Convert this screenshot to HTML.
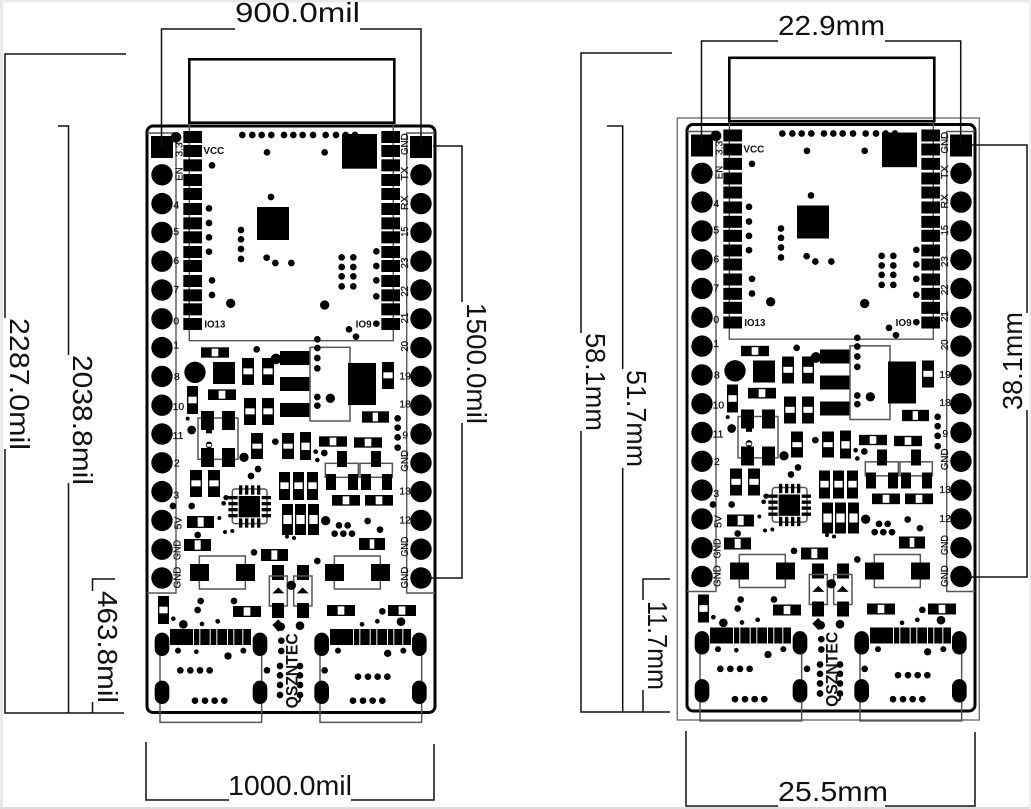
<!DOCTYPE html>
<html><head><meta charset="utf-8"><style>
html,body{margin:0;padding:0;background:#fff;width:1031px;height:809px;overflow:hidden}
svg{display:block}
.dim{font:28px "Liberation Sans",sans-serif;fill:#111}
.l{font:31px "Liberation Sans",sans-serif;fill:#111;stroke:#111;stroke-width:.7}
.b{font:bold 29px "Liberation Sans",sans-serif;fill:#111}
.q{font:bold 50px "Liberation Sans",sans-serif;fill:#111}
.w{fill:#fff}
.th{fill:none;stroke:#555;stroke-width:4.5}
.dl{fill:none;stroke:#111;stroke-width:1.5}
</style></head><body>
<svg width="1031" height="809" viewBox="0 0 1031 809" xmlns="http://www.w3.org/2000/svg">
<defs>
<g id="s">
<rect x="147" y="126" width="288" height="586.5" rx="6" fill="#fff" stroke="#000" stroke-width="3"/>
<rect x="189.3" y="59.3" width="205" height="63.4" fill="none" stroke="#000" stroke-width="2.6"/>
<path d="M147 133H176V593H147M435 133H406.7V593H435M189.3 124V340.7H393.3V124" fill="none" stroke="#555" stroke-width="1.4"/>
<rect x="151" y="136" width="22" height="22"/><rect x="410" y="136" width="22" height="22"/>
<g>
<circle cx="162" cy="174.8" r="10.7"/><circle cx="162" cy="203.6" r="10.7"/><circle cx="162" cy="232.4" r="10.7"/><circle cx="162" cy="261.2" r="10.7"/><circle cx="162" cy="290" r="10.7"/><circle cx="162" cy="318.8" r="10.7"/><circle cx="162" cy="347.6" r="10.7"/><circle cx="162" cy="376.4" r="10.7"/><circle cx="162" cy="405.2" r="10.7"/><circle cx="162" cy="434" r="10.7"/><circle cx="162" cy="462.8" r="10.7"/><circle cx="162" cy="491.6" r="10.7"/><circle cx="162" cy="520.4" r="10.7"/><circle cx="162" cy="549.2" r="10.7"/><circle cx="162" cy="578" r="10.7"/>
<circle cx="421" cy="174.8" r="10.7"/><circle cx="421" cy="203.6" r="10.7"/><circle cx="421" cy="232.4" r="10.7"/><circle cx="421" cy="261.2" r="10.7"/><circle cx="421" cy="290" r="10.7"/><circle cx="421" cy="318.8" r="10.7"/><circle cx="421" cy="347.6" r="10.7"/><circle cx="421" cy="376.4" r="10.7"/><circle cx="421" cy="405.2" r="10.7"/><circle cx="421" cy="434" r="10.7"/><circle cx="421" cy="462.8" r="10.7"/><circle cx="421" cy="491.6" r="10.7"/><circle cx="421" cy="520.4" r="10.7"/><circle cx="421" cy="549.2" r="10.7"/><circle cx="421" cy="578" r="10.7"/>
</g>
<!-- crop1 space -->
<g transform="translate(140,50) scale(.33333)">
<rect x="130" y="243" width="56" height="36"/><rect x="130" y="285" width="56" height="36"/><rect x="130" y="328" width="56" height="36"/><rect x="130" y="372" width="56" height="36"/><rect x="130" y="414" width="56" height="36"/><rect x="130" y="459" width="56" height="36"/><rect x="130" y="502" width="56" height="36"/><rect x="130" y="544" width="56" height="36"/><rect x="130" y="588" width="56" height="36"/><rect x="130" y="630" width="56" height="36"/><rect x="130" y="675" width="56" height="36"/><rect x="130" y="718" width="56" height="36"/><rect x="130" y="760" width="56" height="36"/><rect x="130" y="804" width="56" height="36"/>
<rect x="724" y="243" width="56" height="36"/><rect x="724" y="285" width="56" height="36"/><rect x="724" y="328" width="56" height="36"/><rect x="724" y="372" width="56" height="36"/><rect x="724" y="414" width="56" height="36"/><rect x="724" y="459" width="56" height="36"/><rect x="724" y="502" width="56" height="36"/><rect x="724" y="544" width="56" height="36"/><rect x="724" y="588" width="56" height="36"/><rect x="724" y="630" width="56" height="36"/><rect x="724" y="675" width="56" height="36"/><rect x="724" y="718" width="56" height="36"/><rect x="724" y="760" width="56" height="36"/><rect x="724" y="804" width="56" height="36"/>
<circle cx="307" cy="255" r="10"/><circle cx="337" cy="255" r="10"/><circle cx="365" cy="255" r="10"/><circle cx="394" cy="255" r="10"/><circle cx="432" cy="255" r="10"/><circle cx="460" cy="255" r="10"/><circle cx="488" cy="255" r="10"/><circle cx="519" cy="255" r="10"/><circle cx="557" cy="255" r="10"/><circle cx="588" cy="255" r="10"/><circle cx="617" cy="255" r="10"/><circle cx="645" cy="255" r="10"/>
<rect x="606" y="252" width="105" height="104"/>
<circle cx="108" cy="262" r="16"/><circle cx="381" cy="307" r="10"/><circle cx="554" cy="307" r="10"/><circle cx="216" cy="346" r="10"/><circle cx="393" cy="441" r="10"/>
<circle cx="207" cy="475" r="10"/><circle cx="207" cy="519" r="10"/><circle cx="207" cy="562" r="10"/><circle cx="207" cy="605" r="10"/>
<circle cx="303" cy="540" r="10"/><circle cx="303" cy="568" r="10"/><circle cx="303" cy="597" r="10"/><circle cx="303" cy="627" r="10"/>
<rect x="351" y="471" width="96" height="99"/>
<circle cx="380" cy="623" r="10"/><circle cx="406" cy="639" r="10"/><circle cx="454" cy="639" r="10"/>
<circle cx="605" cy="622" r="10"/><circle cx="640" cy="622" r="10"/><circle cx="605" cy="651" r="10"/><circle cx="640" cy="651" r="10"/><circle cx="605" cy="679" r="10"/><circle cx="640" cy="679" r="10"/><circle cx="605" cy="709" r="10"/><circle cx="640" cy="709" r="10"/>
<circle cx="709" cy="604" r="10"/><circle cx="709" cy="648" r="10"/><circle cx="709" cy="691" r="10"/><circle cx="709" cy="739" r="10"/>
<circle cx="216" cy="691" r="10"/><circle cx="216" cy="735" r="10"/><circle cx="272" cy="760" r="14"/><circle cx="554" cy="765" r="14"/>
<circle cx="627" cy="838" r="10"/><circle cx="648" cy="860" r="10"/><circle cx="709" cy="821" r="10"/><circle cx="532" cy="868" r="10"/>
</g>
<!-- crop2 space -->
<g transform="translate(140,340) scale(.33333)">
<rect x="183" y="22" width="84" height="31"/><rect x="204" y="148" width="84" height="32"/><rect x="537" y="289" width="84" height="31"/><rect x="642" y="292" width="84" height="31"/><rect x="666" y="214" width="81" height="34"/><rect x="576" y="465" width="84" height="32"/><rect x="675" y="465" width="84" height="32"/><rect x="141" y="528" width="81" height="36"/><rect x="132" y="597" width="81" height="36"/><rect x="657" y="594" width="78" height="36"/><rect x="363" y="627" width="81" height="36"/>
<rect class="w" x="215" y="26" width="20" height="23"/><rect class="w" x="236" y="152" width="20" height="24"/><rect class="w" x="569" y="293" width="20" height="23"/><rect class="w" x="674" y="296" width="20" height="23"/><rect class="w" x="698" y="218" width="16" height="26"/><rect class="w" x="608" y="469" width="20" height="24"/><rect class="w" x="707" y="469" width="20" height="24"/><rect class="w" x="173" y="532" width="18" height="28"/><rect class="w" x="164" y="601" width="18" height="28"/><rect class="w" x="689" y="598" width="14" height="28"/><rect class="w" x="394" y="631" width="18" height="28"/>
<rect x="306" y="54" width="36" height="81"/><rect x="366" y="54" width="36" height="81"/><rect x="726" y="66" width="36" height="81"/><rect x="141" y="138" width="33" height="84"/><rect x="312" y="174" width="36" height="81"/><rect x="366" y="174" width="36" height="81"/><rect x="333" y="279" width="36" height="78"/><rect x="426" y="279" width="36" height="78"/><rect x="480" y="276" width="33" height="84"/><rect x="150" y="390" width="36" height="81"/><rect x="204" y="390" width="36" height="81"/><rect x="417" y="396" width="33" height="84"/><rect x="459" y="396" width="33" height="84"/><rect x="501" y="396" width="33" height="84"/><rect x="426" y="492" width="33" height="93"/><rect x="465" y="492" width="33" height="93"/><rect x="504" y="492" width="33" height="93"/>
<rect class="w" x="310" y="85" width="28" height="18"/><rect class="w" x="370" y="85" width="28" height="18"/><rect class="w" x="730" y="97" width="28" height="18"/><rect class="w" x="145" y="170" width="25" height="20"/><rect class="w" x="316" y="205" width="28" height="18"/><rect class="w" x="370" y="205" width="28" height="18"/><rect class="w" x="337" y="311" width="28" height="15"/><rect class="w" x="430" y="311" width="28" height="15"/><rect class="w" x="484" y="308" width="25" height="22"/><rect class="w" x="154" y="421" width="28" height="18"/><rect class="w" x="208" y="421" width="28" height="18"/><rect class="w" x="421" y="427" width="25" height="20"/><rect class="w" x="463" y="427" width="25" height="20"/><rect class="w" x="505" y="427" width="25" height="20"/><rect class="w" x="430" y="525" width="25" height="27"/><rect class="w" x="469" y="525" width="25" height="27"/><rect class="w" x="508" y="525" width="25" height="27"/>
<rect x="219" y="66" width="66" height="66"/><circle cx="165" cy="97" r="32"/>
<rect x="420" y="33" width="90" height="42"/><rect x="420" y="111" width="90" height="42"/><rect x="420" y="189" width="90" height="42"/><circle cx="408" cy="57" r="16"/>
<rect class="th" x="510" y="22" width="120" height="221"/><rect x="624" y="69" width="84" height="126"/>
<circle cx="532" cy="24" r="10"/><circle cx="532" cy="54" r="10"/><circle cx="532" cy="85" r="10"/><circle cx="532" cy="171" r="10"/><circle cx="532" cy="197" r="10"/><circle cx="571" cy="175" r="14"/><circle cx="350" cy="28" r="10"/>
<rect class="th" x="174" y="234" width="120" height="124"/>
<rect x="183" y="213" width="39" height="57"/><rect x="246" y="213" width="39" height="57"/><rect x="183" y="324" width="39" height="57"/><rect x="246" y="324" width="39" height="57"/>
<rect x="198" y="268" width="18" height="12"/><circle cx="207" cy="315" r="10"/><rect class="w" x="200" y="312" width="14" height="8"/>
<circle cx="143" cy="236" r="6"/><circle cx="155" cy="270" r="13"/><circle cx="312" cy="352" r="14"/><circle cx="406" cy="305" r="10"/><circle cx="527" cy="335" r="7"/><circle cx="553" cy="339" r="10"/><circle cx="532" cy="360" r="7"/><circle cx="354" cy="387" r="10"/><circle cx="333" cy="408" r="10"/><circle cx="155" cy="498" r="10"/><circle cx="99" cy="498" r="10"/><circle cx="258" cy="473" r="8"/><circle cx="251" cy="490" r="7"/><circle cx="238" cy="534" r="6"/><circle cx="255" cy="576" r="6"/><circle cx="277" cy="573" r="6"/><circle cx="173" cy="585" r="10"/><circle cx="342" cy="637" r="10"/>
<circle cx="773" cy="235" r="10"/><circle cx="773" cy="263" r="10"/><circle cx="773" cy="292" r="10"/><circle cx="773" cy="323" r="10"/>
<rect class="th" x="277" y="447" width="104" height="104" rx="8"/>
<rect x="296" y="468" width="64" height="64"/>
<rect x="297" y="436" width="10" height="28"/><rect x="315" y="436" width="10" height="28"/><rect x="333" y="436" width="10" height="28"/><rect x="351" y="436" width="10" height="28"/>
<rect x="297" y="535" width="10" height="28"/><rect x="315" y="535" width="10" height="28"/><rect x="333" y="535" width="10" height="28"/><rect x="351" y="535" width="10" height="28"/>
<rect x="265" y="468" width="28" height="10"/><rect x="265" y="486" width="28" height="10"/><rect x="265" y="504" width="28" height="10"/><rect x="265" y="522" width="28" height="10"/>
<rect x="365" y="468" width="28" height="10"/><rect x="365" y="486" width="28" height="10"/><rect x="365" y="504" width="28" height="10"/><rect x="365" y="522" width="28" height="10"/>
<rect class="th" x="556" y="370" width="99" height="42"/><rect class="th" x="660" y="370" width="97" height="42"/>
<rect x="591" y="333" width="30" height="48"/><rect x="693" y="333" width="30" height="48"/><rect x="558" y="402" width="30" height="48"/><rect x="624" y="402" width="30" height="48"/><rect x="663" y="402" width="30" height="48"/><rect x="726" y="402" width="30" height="48"/>
<circle cx="557" cy="542" r="14"/><circle cx="597" cy="556" r="10"/><circle cx="623" cy="556" r="10"/><circle cx="584" cy="581" r="10"/><circle cx="610" cy="581" r="10"/><circle cx="636" cy="581" r="10"/><circle cx="683" cy="543" r="10"/><circle cx="720" cy="569" r="10"/><circle cx="441" cy="590" r="6"/><circle cx="462" cy="594" r="6"/><circle cx="532" cy="663" r="10"/>
<path class="th" d="M178 672V648H316V672M178 723V747H316V723M583 672V648H721V672M583 723V747H721V723"/>
<rect x="150" y="672" width="57" height="51"/><rect x="288" y="672" width="57" height="51"/><rect x="555" y="672" width="57" height="51"/><rect x="693" y="672" width="57" height="51"/>
<rect x="396" y="675" width="36" height="45"/><rect x="471" y="675" width="36" height="45"/>
</g>
<!-- crop3 space -->
<g transform="translate(140,570) scale(.33333)">
<rect class="th" x="388" y="18" width="54" height="90"/><rect class="th" x="461" y="18" width="55" height="90"/>
<path d="M397 70L415 52L433 70ZM470 70L488 52L506 70Z"/>
<rect x="396" y="99" width="36" height="45"/><rect x="471" y="99" width="36" height="45"/>
<circle cx="454" cy="46" r="14"/>
<rect x="54" y="78" width="33" height="84"/><rect class="w" x="58" y="110" width="25" height="20"/>
<rect x="279" y="108" width="84" height="33"/><rect class="w" x="311" y="112" width="20" height="25"/>
<rect x="561" y="105" width="84" height="33"/><rect class="w" x="593" y="109" width="20" height="25"/>
<rect x="744" y="105" width="84" height="33"/><rect class="w" x="776" y="109" width="20" height="25"/>
<circle cx="182" cy="93" r="10"/><circle cx="173" cy="120" r="10"/><circle cx="282" cy="93" r="10"/><circle cx="100" cy="146" r="7"/><circle cx="130" cy="163" r="13"/><circle cx="186" cy="162" r="7"/><circle cx="233" cy="154" r="7"/><circle cx="727" cy="124" r="10"/><circle cx="666" cy="163" r="7"/><circle cx="712" cy="154" r="7"/><circle cx="783" cy="155" r="13"/><circle cx="480" cy="167" r="13"/><circle cx="422" cy="170" r="13"/><path d="M397 165L415 148L432 168L415 185Z"/>
<rect x="90" y="177" width="243" height="48"/><rect x="570" y="177" width="243" height="48"/>
<rect class="w" x="159" y="177" width="3" height="48"/><rect class="w" x="178" y="177" width="3" height="48"/><rect class="w" x="209" y="177" width="3" height="48"/><rect class="w" x="229" y="177" width="3" height="48"/><rect class="w" x="261" y="177" width="3" height="48"/><rect class="w" x="280" y="177" width="3" height="48"/><rect class="w" x="307" y="177" width="3" height="48"/>
<rect class="w" x="639" y="177" width="3" height="48"/><rect class="w" x="658" y="177" width="3" height="48"/><rect class="w" x="689" y="177" width="3" height="48"/><rect class="w" x="709" y="177" width="3" height="48"/><rect class="w" x="741" y="177" width="3" height="48"/><rect class="w" x="760" y="177" width="3" height="48"/><rect class="w" x="787" y="177" width="3" height="48"/>
<path class="th" d="M60 223V457H365V223M540 223V457H845V223"/>
<rect x="44" y="188" width="44" height="70" rx="22"/><rect x="338" y="188" width="44" height="70" rx="22"/><rect x="44" y="332" width="44" height="70" rx="22"/><rect x="338" y="332" width="44" height="70" rx="22"/>
<rect x="523" y="188" width="44" height="70" rx="22"/><rect x="816" y="188" width="44" height="70" rx="22"/><rect x="523" y="332" width="44" height="70" rx="22"/><rect x="816" y="332" width="44" height="70" rx="22"/>
<circle cx="114" cy="242" r="9"/><circle cx="169" cy="245" r="7"/><circle cx="264" cy="258" r="11"/><circle cx="310" cy="242" r="9"/>
<circle cx="121" cy="301" r="10"/><circle cx="151" cy="301" r="10"/><circle cx="180" cy="301" r="10"/><circle cx="209" cy="301" r="10"/>
<circle cx="165" cy="392" r="10"/><circle cx="195" cy="392" r="10"/><circle cx="224" cy="392" r="10"/><circle cx="253" cy="392" r="10"/><circle cx="381" cy="301" r="10"/>
<circle cx="594" cy="242" r="9"/><circle cx="743" cy="250" r="11"/><circle cx="790" cy="242" r="9"/><circle cx="554" cy="301" r="10"/>
<circle cx="654" cy="320" r="10"/><circle cx="684" cy="320" r="10"/><circle cx="713" cy="320" r="10"/><circle cx="742" cy="320" r="10"/>
<circle cx="639" cy="392" r="10"/><circle cx="669" cy="392" r="10"/><circle cx="698" cy="392" r="10"/><circle cx="727" cy="392" r="10"/>
<circle cx="424" cy="212" r="10"/><circle cx="424" cy="243" r="10"/>
<circle cx="420" cy="288" r="10"/><circle cx="420" cy="316" r="10"/><circle cx="420" cy="345" r="10"/><circle cx="420" cy="375" r="10"/>
<circle cx="480" cy="288" r="10"/><circle cx="480" cy="316" r="10"/><circle cx="480" cy="345" r="10"/><circle cx="480" cy="375" r="10"/>
</g>
</g>
</defs>

<rect x="0" y="0" width="1031" height="2.5" fill="#e8e8ee"/>
<rect x="0" y="0" width="3" height="809" fill="#e8e8ee"/>
<rect x="0" y="807" width="1031" height="2" fill="#d8dedc"/>
<rect x="1029" y="0" width="2" height="809" fill="#eef0ee"/>

<rect x="677.3" y="118" width="302" height="602" fill="none" stroke="#666" stroke-width="1.3"/>
<use href="#s"/>
<use href="#s" transform="translate(540,-1.5)"/>

<!-- left board labels -->
<g transform="translate(140,50) scale(.33333)">
<text class="b" x="190" y="312" textLength="63" lengthAdjust="spacingAndGlyphs">VCC</text>
<text class="b" x="193" y="832" textLength="63" lengthAdjust="spacingAndGlyphs">IO13</text>
<text class="b" x="647" y="832" textLength="48" lengthAdjust="spacingAndGlyphs">IO9</text>
<text class="l" transform="translate(127,320) rotate(-90)">3.3</text>
<text class="l" transform="translate(127,392) rotate(-90)" textLength="40" lengthAdjust="spacingAndGlyphs">EN</text>
<text class="l" x="100" y="475">4</text><text class="l" x="100" y="555">5</text><text class="l" x="100" y="642">6</text><text class="l" x="100" y="729">7</text><text class="l" x="100" y="824">0</text><text class="l" x="100" y="895">1</text>
<text class="l" transform="translate(804,315) rotate(-90)" textLength="65" lengthAdjust="spacingAndGlyphs">GND</text>
<text class="l" transform="translate(804,392) rotate(-90)" textLength="42" lengthAdjust="spacingAndGlyphs">TX</text>
<text class="l" transform="translate(804,480) rotate(-90)" textLength="43" lengthAdjust="spacingAndGlyphs">RX</text>
<text class="l" transform="translate(804,560) rotate(-90)" textLength="30" lengthAdjust="spacingAndGlyphs">15</text>
<text class="l" transform="translate(804,655) rotate(-90)" textLength="32" lengthAdjust="spacingAndGlyphs">23</text>
<text class="l" transform="translate(804,740) rotate(-90)" textLength="32" lengthAdjust="spacingAndGlyphs">22</text>
<text class="l" transform="translate(804,820) rotate(-90)" textLength="32" lengthAdjust="spacingAndGlyphs">21</text>
<text class="l" transform="translate(804,905) rotate(-90)" textLength="32" lengthAdjust="spacingAndGlyphs">20</text>
</g>
<g transform="translate(140,340) scale(.33333)">
<text class="l" x="102" y="120">8</text><text class="l" x="98" y="210">10</text><text class="l" x="98" y="297">11</text><text class="l" x="102" y="380">2</text><text class="l" x="100" y="475">3</text>
<text class="l" transform="translate(125,568) rotate(-90)" textLength="38" lengthAdjust="spacingAndGlyphs">5V</text>
<text class="l" transform="translate(122,660) rotate(-90)" textLength="60" lengthAdjust="spacingAndGlyphs">GND</text>
<text class="l" transform="translate(122,745) rotate(-90)" textLength="65" lengthAdjust="spacingAndGlyphs">GND</text>
<text class="l" x="778" y="118">19</text><text class="l" x="778" y="202">18</text><text class="l" x="787" y="296">9</text><text class="l" x="778" y="463">13</text><text class="l" x="778" y="550">12</text>
<text class="l" transform="translate(804,395) rotate(-90)" textLength="65" lengthAdjust="spacingAndGlyphs">GND</text>
<text class="l" transform="translate(804,650) rotate(-90)" textLength="60" lengthAdjust="spacingAndGlyphs">GND</text>
<text class="l" transform="translate(804,745) rotate(-90)" textLength="65" lengthAdjust="spacingAndGlyphs">GND</text>
</g>
<g transform="translate(140,570) scale(.33333)">
<text class="q" transform="translate(472,415) rotate(-90)" textLength="225" lengthAdjust="spacingAndGlyphs">QSZNTEC</text>
</g>

<!-- right board labels -->
<g transform="translate(680,48.5) scale(.33333)">
<text class="b" x="190" y="312" textLength="63" lengthAdjust="spacingAndGlyphs">VCC</text>
<text class="b" x="193" y="832" textLength="63" lengthAdjust="spacingAndGlyphs">IO13</text>
<text class="b" x="647" y="832" textLength="48" lengthAdjust="spacingAndGlyphs">IO9</text>
<text class="l" transform="translate(127,320) rotate(-90)">3.3</text>
<text class="l" transform="translate(127,392) rotate(-90)" textLength="40" lengthAdjust="spacingAndGlyphs">EN</text>
<text class="l" x="100" y="475">4</text><text class="l" x="100" y="555">5</text><text class="l" x="100" y="642">6</text><text class="l" x="100" y="729">7</text><text class="l" x="100" y="824">0</text><text class="l" x="100" y="895">1</text>
<text class="l" transform="translate(804,315) rotate(-90)" textLength="65" lengthAdjust="spacingAndGlyphs">GND</text>
<text class="l" transform="translate(804,392) rotate(-90)" textLength="42" lengthAdjust="spacingAndGlyphs">TX</text>
<text class="l" transform="translate(804,480) rotate(-90)" textLength="43" lengthAdjust="spacingAndGlyphs">RX</text>
<text class="l" transform="translate(804,560) rotate(-90)" textLength="30" lengthAdjust="spacingAndGlyphs">15</text>
<text class="l" transform="translate(804,655) rotate(-90)" textLength="32" lengthAdjust="spacingAndGlyphs">23</text>
<text class="l" transform="translate(804,740) rotate(-90)" textLength="32" lengthAdjust="spacingAndGlyphs">22</text>
<text class="l" transform="translate(804,820) rotate(-90)" textLength="32" lengthAdjust="spacingAndGlyphs">21</text>
<text class="l" transform="translate(804,905) rotate(-90)" textLength="32" lengthAdjust="spacingAndGlyphs">20</text>
</g>
<g transform="translate(680,338.5) scale(.33333)">
<text class="l" x="102" y="120">8</text><text class="l" x="98" y="210">10</text><text class="l" x="98" y="297">11</text><text class="l" x="102" y="380">2</text><text class="l" x="100" y="475">3</text>
<text class="l" transform="translate(125,568) rotate(-90)" textLength="38" lengthAdjust="spacingAndGlyphs">5V</text>
<text class="l" transform="translate(122,660) rotate(-90)" textLength="60" lengthAdjust="spacingAndGlyphs">GND</text>
<text class="l" transform="translate(122,745) rotate(-90)" textLength="65" lengthAdjust="spacingAndGlyphs">GND</text>
<text class="l" x="778" y="118">19</text><text class="l" x="778" y="202">18</text><text class="l" x="787" y="296">9</text><text class="l" x="778" y="463">13</text><text class="l" x="778" y="550">12</text>
<text class="l" transform="translate(804,395) rotate(-90)" textLength="65" lengthAdjust="spacingAndGlyphs">GND</text>
<text class="l" transform="translate(804,650) rotate(-90)" textLength="60" lengthAdjust="spacingAndGlyphs">GND</text>
<text class="l" transform="translate(804,745) rotate(-90)" textLength="65" lengthAdjust="spacingAndGlyphs">GND</text>
</g>
<g transform="translate(680,568.5) scale(.33333)">
<text class="q" transform="translate(472,415) rotate(-90)" textLength="225" lengthAdjust="spacingAndGlyphs">QSZNTEC</text>
</g>

<!-- dimension lines -->
<g class="dl">
<path d="M126 54H5V318M5 449V713H124"/>
<path d="M58 126H68.5V355M68.5 483V713"/>
<path d="M115 579H92.5V591M92.5 702V713"/>
<path d="M161.5 146V29H235M360 29H421V146"/>
<path d="M433 146H462V302M462 423V578H431"/>
<path d="M146 742V800H229M351 800H434V744"/>
<path d="M672 53H581V333M581 431V712H670"/>
<path d="M607 126H622.7V369M622.7 468V712"/>
<path d="M670 579H643V600M643 690V712"/>
<path d="M701.5 145V41H778M885 41H960.7V145"/>
<path d="M970 145H1027V313M1027 410V577H970"/>
<path d="M686 731V806H778M885 806H975V732"/>
</g>

<!-- dimension text -->
<text class="dim" x="235" y="22" textLength="125" lengthAdjust="spacingAndGlyphs">900.0mil</text>
<text class="dim" x="778" y="35" textLength="107" lengthAdjust="spacingAndGlyphs">22.9mm</text>
<text class="dim" x="228" y="795" textLength="124" lengthAdjust="spacingAndGlyphs">1000.0mil</text>
<text class="dim" x="778" y="801" textLength="110" lengthAdjust="spacingAndGlyphs">25.5mm</text>
<text class="dim" transform="translate(10,318) rotate(90)" textLength="132" lengthAdjust="spacingAndGlyphs">2287.0mil</text>
<text class="dim" transform="translate(73,355) rotate(90)" textLength="130" lengthAdjust="spacingAndGlyphs">2038.8mil</text>
<text class="dim" transform="translate(98,591) rotate(90)" textLength="112" lengthAdjust="spacingAndGlyphs">463.8mil</text>
<text class="dim" transform="translate(467,303) rotate(90)" textLength="121" lengthAdjust="spacingAndGlyphs">1500.0mil</text>
<text class="dim" transform="translate(586,333) rotate(90)" textLength="98" lengthAdjust="spacingAndGlyphs">58.1mm</text>
<text class="dim" transform="translate(627,370) rotate(90)" textLength="97" lengthAdjust="spacingAndGlyphs">51.7mm</text>
<text class="dim" transform="translate(648,601) rotate(90)" textLength="89" lengthAdjust="spacingAndGlyphs">11.7mm</text>
<text class="dim" transform="translate(1022,410) rotate(-90)" textLength="98" lengthAdjust="spacingAndGlyphs">38.1mm</text>
</svg>
</body></html>
